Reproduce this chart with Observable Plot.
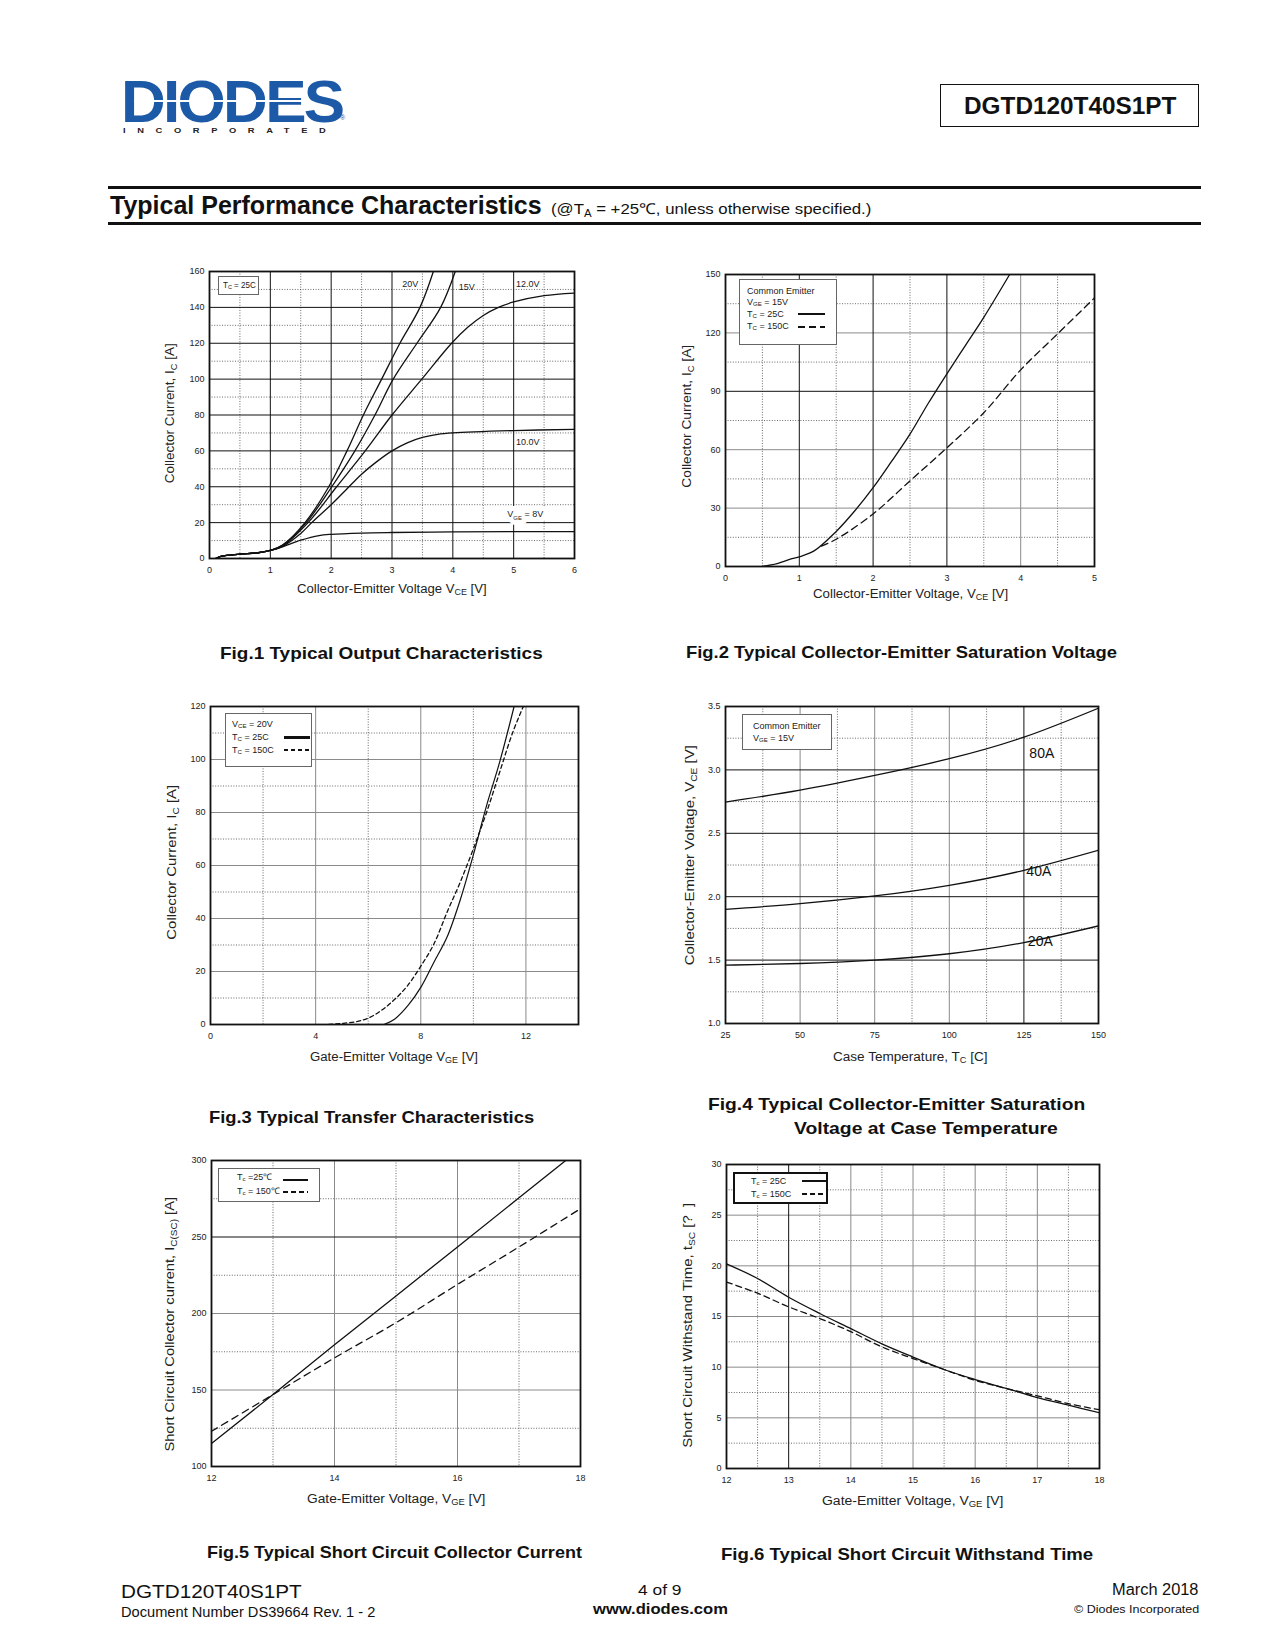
<!DOCTYPE html>
<html><head><meta charset="utf-8">
<script src="https://cdn.jsdelivr.net/npm/d3@7"></script>
<script src="https://cdn.jsdelivr.net/npm/@observablehq/plot@0.6"></script>
<style>
body{margin:0;background:#fff;}
#page{position:relative;width:1275px;height:1650px;overflow:hidden;font-family:"Liberation Sans",Arial,Helvetica,sans-serif;color:#111;background:#fff}
.t{position:absolute;left:0;top:0;white-space:nowrap;line-height:1;display:inline-block}
.s{font-size:0.68em;position:relative;top:0.32em}
.box{position:absolute;background:#fff;border:1px solid #666;box-sizing:border-box}
.ln{position:absolute;height:0}
svg{position:absolute}
</style></head>
<body><div id="page"></div>
<script>
// ---------------- DATA ----------------
// Fig.1 Typical Output Characteristics (Tc = 25C)
const f1_x8  = [0.1,0.2,0.5,0.8,1.0,1.2,1.5,1.8,2.0,2.5,3.0,4.0,5.0,6.0];
const f1_y8  = [0,1.3,2.4,3.2,4.5,6.5,10.2,12.8,13.5,14.2,14.5,14.8,15,15];
const f1_x10 = [0.1,0.2,0.5,0.8,1.0,1.2,1.5,1.68,2.0,2.25,2.5,2.75,3.0,3.25,3.5,3.75,4.0,5.0,6.0];
const f1_y10 = [0,1.3,2.4,3.2,4.5,6.8,14,20,30,38.5,47,54,60,64.5,67.5,69.2,70,71.3,72];
const f1_x12 = [0.1,0.2,0.5,0.8,1.0,1.2,1.62,2.09,2.56,3.0,3.49,3.98,4.25,4.5,4.75,5.0,5.5,6.0];
const f1_y12 = [0,1.3,2.4,3.2,4.5,7,20,40,60,80,100,120,129,135.5,140,143,146.5,148];
const f1_x15 = [0.1,0.2,0.5,0.8,1.0,1.2,1.59,2.01,2.39,2.72,3.02,3.41,3.8,4.04];
const f1_y15 = [0,1.3,2.4,3.2,4.5,7.3,20,40,60,80,100,120,140,160];
const f1_x20 = [0.1,0.2,0.5,0.8,1.0,1.2,1.57,1.96,2.26,2.53,2.83,3.13,3.46,3.68];
const f1_y20 = [0,1.3,2.4,3.2,4.5,7.5,20,40,60,80,100,120,140,160];
const f1_labelText = ["20V","15V","12.0V","10.0V","V_{GE} = 8V"];
const f1_labelX = [3.30,4.23,5.23,5.23,5.19];
const f1_labelY = [153,151.5,153,65,24.5];
const f1_xTicks = [0,1,2,3,4,5,6];
const f1_yTicks = [0,20,40,60,80,100,120,140,160];

// Fig.2 Typical Collector-Emitter Saturation Voltage (VGE = 15V)
const f2_x25  = [0.5,0.7,0.9,1.0,1.2,1.5,1.75,2.0,2.25,2.5,2.75,3.0,3.25,3.5,3.85];
const f2_y25  = [0,1.5,4,5,8,18,28.5,40.5,54,68,84,99,113.5,128,150];
const f2_x150 = [1.3,1.5,2.0,2.5,3.0,3.5,4.0,4.5,5.0];
const f2_y150 = [10.5,14,27,44,61,79,101,119.5,138];
const f2_xTicks = [0,1,2,3,4,5];
const f2_yTicks = [0,30,60,90,120,150];

// Fig.3 Typical Transfer Characteristics (VCE = 20V)
const f3_x25  = [6.6,7,7.5,8,8.5,9,9.5,10,10.5,11,11.55];
const f3_y25  = [0,2,7,14,23.5,33,47,64,82.5,99,120];
const f3_x150 = [4.5,5.5,6,6.5,7,7.5,8,8.5,9,9.5,10,10.5,11,11.5,11.9];
const f3_y150 = [0,1,2.4,5.3,9.4,14.7,22,30.4,42.4,53.7,66.3,80,95.2,110.3,120];
const f3_xTicks = [0,4,8,12];
const f3_yTicks = [0,20,40,60,80,100,120];

// Fig.4 VCE(sat) vs case temperature (VGE = 15V)
const f4_temp = [25,50,75,100,125,150];
const f4_80A  = [2.746,2.84,2.956,3.088,3.258,3.487];
const f4_40A  = [1.90,1.945,2.006,2.09,2.208,2.366];
const f4_20A  = [1.46,1.473,1.50,1.55,1.638,1.77];
const f4_labelText = ["80A","40A","20A"];
const f4_labelX = [131,130,130.5];
const f4_labelY = [3.13,2.20,1.643];
const f4_xTicks = [25,50,75,100,125,150];
const f4_yTicks = [1.0,1.5,2.0,2.5,3.0,3.5];

// Fig.5 Short circuit collector current
const f5_x25  = [12,13,14,15,16,17,17.76];
const f5_y25  = [115,147,179.5,211.5,243.5,275.6,300];
const f5_x150 = [12,13,14,15,16,17,18];
const f5_y150 = [123,147,171,194,219,243.5,268.5];
const f5_xTicks = [12,14,16,18];
const f5_yTicks = [100,150,200,250,300];

// Fig.6 Short circuit withstand time
const f6_x    = [12,12.5,13,13.5,14,14.5,15,15.5,16,16.5,17,17.5,18];
const f6_y25  = [20.2,18.75,16.9,15.3,13.8,12.3,11.0,9.77,8.78,7.9,7.0,6.25,5.5];
const f6_y150 = [18.4,17.3,15.95,14.8,13.5,12.0,10.85,9.77,8.7,7.9,7.17,6.4,5.8];
const f6_xTicks = [12,13,14,15,16,17,18];
const f6_yTicks = [0,5,10,15,20,25,30];

// ---------------- HELPERS ----------------
const page = document.getElementById("page");
function addText(html, o){
  const d = document.createElement("div");
  d.className = "t";
  d.innerHTML = html;
  d.style.fontSize = (o.size||12)+"px";
  if (o.lh) d.style.lineHeight = o.lh;
  if (o.weight) d.style.fontWeight = o.weight;
  if (o.family) d.style.fontFamily = o.family;
  if (o.color) d.style.color = o.color;
  if (o.spacing) d.style.letterSpacing = o.spacing;
  page.appendChild(d);
  const w0 = d.offsetWidth, h0 = d.offsetHeight;
  const s = o.w ? o.w / w0 : 1;
  if (o.rotate){
    d.style.left = (o.x - w0/2) + "px";
    d.style.top = (o.y - h0/2) + "px";
    d.style.transformOrigin = "50% 50%";
    d.style.transform = `rotate(-90deg) scaleX(${s})`;
  } else {
    const wv = w0*s;
    const left = o.anchor==="middle" ? o.x - wv/2 : o.anchor==="end" ? o.x - wv : o.x;
    d.style.left = left + "px";
    d.style.top = (o.y - h0/2) + "px";
    d.style.transformOrigin = "0 50%";
    d.style.transform = `scaleX(${s})` + (o.sy ? ` scaleY(${o.sy})` : "");
  }
  return d;
}
function addBox(x0,y0,x1,y1,border){
  const b = document.createElement("div");
  b.className="box";
  Object.assign(b.style,{left:x0+"px",top:y0+"px",width:(x1-x0)+"px",height:(y1-y0)+"px"});
  if (border) b.style.border = border;
  page.appendChild(b);
}
function addSample(x0,x1,y,w,dash){
  const l = document.createElement("div");
  l.className="ln";
  Object.assign(l.style,{left:x0+"px",top:(y-w/2)+"px",width:(x1-x0)+"px",height:w+"px"});
  l.style.background = dash ? `repeating-linear-gradient(90deg,#111 0 ${dash[0]}px,transparent ${dash[0]}px ${dash[0]+dash[1]}px)` : "#111";
  page.appendChild(l);
}
function pts(xs, ys){ return xs.map((x,i)=>({x, y: ys[i]})); }
function range(a,b,st){ const r=[]; for(let v=a; v<=b+1e-9; v+=st) r.push(+v.toFixed(4)); return r; }

function subify(svg){
  svg.querySelectorAll("text").forEach(t=>{
    const s = t.textContent;
    if (!s.includes("_{")) return;
    const parts = s.split(/(_\{[^}]*\})/).filter(p=>p);
    while (t.firstChild) t.removeChild(t.firstChild);
    let prevSub = false;
    for (const p of parts){
      const ts = document.createElementNS("http://www.w3.org/2000/svg","tspan");
      if (p.startsWith("_{")){
        ts.textContent = p.slice(2,-1);
        ts.setAttribute("font-size","6");
        ts.setAttribute("dy","2.5");
        prevSub = true;
      } else {
        ts.textContent = p;
        if (prevSub) ts.setAttribute("dy","-2.5");
        prevSub = false;
      }
      t.appendChild(ts);
    }
  });
}

const mL=40, mR=14, mT=12, mB=24;
function chart(c){
  const [fx0,fy0,fx1,fy1] = c.frame;
  const marks = [
    Plot.ruleX(c.xMinor,{stroke:"#444",strokeWidth:0.8,strokeDasharray:"1,1.6"}),
    Plot.ruleY(c.yMinor,{stroke:"#444",strokeWidth:0.8,strokeDasharray:"1,1.6"}),
    Plot.ruleX(c.xMajor.filter(v=>!(c.darkX||[]).includes(v)),{stroke:c.majorColor||"#8a8a8a",strokeWidth:1}),
    Plot.ruleY(c.yMajor.filter(v=>!(c.darkY||[]).includes(v)),{stroke:c.majorColor||"#8a8a8a",strokeWidth:1}),
    Plot.ruleX((c.darkX||[]),{stroke:"#111",strokeWidth:1}),
    Plot.ruleY((c.darkY||[]),{stroke:"#111",strokeWidth:1}),
  ];
  if (c.under) marks.push(...c.under);
  for (const s of c.series){
    marks.push(Plot.line(s.data,{x:"x",y:"y",curve:s.curve||"catmull-rom",stroke:"#111",strokeWidth:s.width||1.3,strokeDasharray:s.dash,clip:true}));
  }
  if (c.labels) marks.push(...c.labels);
  marks.push(Plot.frame({stroke:"#111",strokeWidth:1.8}));
  const p = Plot.plot({
    width: fx1-fx0+mL+mR, height: fy1-fy0+mT+mB,
    marginLeft:mL, marginRight:mR, marginTop:mT, marginBottom:mB,
    style:{fontFamily:"'Liberation Sans',Arial,sans-serif",fontSize:"9px",color:"#222",background:"transparent",overflow:"visible"},
    x:{domain:c.xDomain,ticks:c.xTicks,tickSize:0,tickPadding:8,label:null,tickFormat:c.xFormat||(d=>String(d))},
    y:{domain:c.yDomain,ticks:c.yTicks,tickSize:0,tickPadding:5,label:null,tickFormat:c.yFormat||(d=>String(d))},
    marks
  });
  p.style.left = (fx0-mL)+"px";
  p.style.top = (fy0-mT)+"px";
  subify(p);
  page.appendChild(p);
}

// ---------------- HEADER ----------------
addText("DIODES",{x:121,y:101,size:46,lh:0.7,weight:"900",color:"#1c59a6",w:221,sy:1.3,family:"'Liberation Sans',Arial,sans-serif",spacing:"-2px"});
(function(){ const l=document.createElement("div"); Object.assign(l.style,{position:"absolute",left:"134px",top:"100px",width:"176px",height:"2px",background:"#fff"}); page.appendChild(l);})();
addText("INCORPORATED",{x:123,y:131,size:8,lh:0.8,weight:"bold",color:"#222",w:214,spacing:"10px"});
addText("®",{x:340,y:118,size:7,lh:0.8,color:"#1c59a6"});
addBox(940,84,1199,127,"1.5px solid #111");
addText("DGTD120T40S1PT",{x:1069.5,y:106,size:24,weight:"bold",anchor:"middle",w:212,family:"'Liberation Sans Narrow','Liberation Sans',Arial,sans-serif"});
(function(){
  for (const y of [186,222]){ const l=document.createElement("div"); Object.assign(l.style,{position:"absolute",left:"108px",top:y+"px",width:"1093px",height:"3px",background:"#111"}); page.appendChild(l);}
})();
addText("Typical Performance Characteristics",{x:110,y:205,size:25,weight:"bold",w:432,family:"'Liberation Sans Narrow','Liberation Sans',Arial,sans-serif"});
addText("(@T<span class='s'>A</span> = +25℃, unless otherwise specified.)",{x:551,y:208,size:15,w:320,family:"'Liberation Sans Narrow','Liberation Sans',Arial,sans-serif"});

// ---------------- FIG 1 ----------------
const f1_labels = f1_labelText.map((t,i)=>({t,x:f1_labelX[i],y:f1_labelY[i]}));
chart({
  frame:[209,271,574,558], xDomain:[0,6], yDomain:[0,160], xTicks:f1_xTicks, yTicks:f1_yTicks,
  xMajor:[1,2,3,4,5], xMinor:range(0.5,5.5,1), yMajor:range(20,140,20), yMinor:range(10,150,20),
  darkX:[1,2,3,4,5], darkY:range(20,140,20),
  under:[
    Plot.text(f1_labels.filter(d=>d.t.startsWith("V")),{x:"x",y:"y",text:"t",fontSize:9,fill:"white",stroke:"white",strokeWidth:10})
  ],
  series:[{data:pts(f1_x8,f1_y8)},{data:pts(f1_x10,f1_y10)},{data:pts(f1_x12,f1_y12)},{data:pts(f1_x15,f1_y15)},{data:pts(f1_x20,f1_y20)}],
  labels:[
    Plot.text(f1_labels,{x:"x",y:"y",text:"t",fontSize:9,fill:"#222"})
  ]
});
addBox(218,276,259,295);
addText("T<span class='s'>C</span> = 25C",{x:223,y:285,size:9,color:"#222",w:33});
addText("Collector Current, I<span class='s'>C</span> [A]",{x:170,y:413,size:12.5,rotate:true,w:140,color:"#222"});
addText("Collector-Emitter Voltage V<span class='s'>CE</span> [V]",{x:392,y:589,size:12.5,anchor:"middle",w:190,color:"#222"});

// ---------------- FIG 2 ----------------
chart({
  frame:[725,274,1094,566], xDomain:[0,5], yDomain:[0,150], xTicks:f2_xTicks, yTicks:f2_yTicks,
  xMajor:[1,2,3,4], xMinor:range(0.5,4.5,1), yMajor:[30,60,90,120], yMinor:range(15,135,30),
  darkX:[1,2,3], darkY:[90],
  series:[{data:pts(f2_x25,f2_y25)},{data:pts(f2_x150,f2_y150),dash:"7,4.5"}]
});
addBox(739,279,837,345);
addText("Common Emitter",{x:747,y:291,size:9,color:"#222"});
addText("V<span class='s'>GE</span> = 15V",{x:747,y:302,size:9,color:"#222"});
addText("T<span class='s'>C</span> = 25C",{x:747,y:314,size:9,color:"#222"});
addText("T<span class='s'>C</span> = 150C",{x:747,y:326,size:9,color:"#222"});
addSample(798,825,314,2);
addSample(798,825,327,1.6,[7,4]);
addText("Collector Current, I<span class='s'>C</span> [A]",{x:687,y:416,size:12.5,rotate:true,w:143,color:"#222"});
addText("Collector-Emitter Voltage, V<span class='s'>CE</span> [V]",{x:910,y:594,size:12.5,anchor:"middle",w:195,color:"#222"});

// ---------------- FIG 3 ----------------
chart({
  frame:[210,706,578,1024], xDomain:[0,14], yDomain:[0,120], xTicks:f3_xTicks, yTicks:f3_yTicks,
  xMajor:[4,8,12], xMinor:[2,6,10], yMajor:range(20,100,20), yMinor:range(10,110,20),
  series:[{data:pts(f3_x25,f3_y25),width:1.2},{data:pts(f3_x150,f3_y150),dash:"4,3",width:1.3}]
});
addBox(225,713,312,767);
addText("V<span class='s'>CE</span> = 20V",{x:232,y:724,size:9,color:"#222"});
addText("T<span class='s'>C</span> = 25C",{x:232,y:737,size:9,color:"#222"});
addText("T<span class='s'>C</span> = 150C",{x:232,y:750,size:9,color:"#222"});
addSample(284,310,737,3);
addSample(284,310,750,1.6,[4,3]);
addText("Collector Current, I<span class='s'>C</span> [A]",{x:172,y:862,size:12.5,rotate:true,w:155,color:"#222"});
addText("Gate-Emitter Voltage V<span class='s'>GE</span> [V]",{x:394,y:1057,size:12.5,anchor:"middle",w:168,color:"#222"});

// ---------------- FIG 4 ----------------
chart({
  frame:[725,706,1098,1023], xDomain:[25,150], yDomain:[1,3.5], xTicks:f4_xTicks, yTicks:f4_yTicks, yFormat:d3.format(".1f"),
  xMajor:[50,75,100,125], xMinor:range(37.5,137.5,25), yMajor:[1.5,2,2.5,3], yMinor:range(1.25,3.25,0.5),
  darkX:[125], darkY:[1.5,2,2.5,3],
  series:[{data:pts(f4_temp,f4_80A),curve:"natural"},{data:pts(f4_temp,f4_40A),curve:"natural"},{data:pts(f4_temp,f4_20A),curve:"natural"}],
  labels:[
    Plot.text(f4_labelText.map((t,i)=>({t,x:f4_labelX[i],y:f4_labelY[i]})),{x:"x",y:"y",text:"t",fontSize:14,fill:"#111"})
  ]
});
addBox(742,714,832,750);
addText("Common Emitter",{x:753,y:726,size:9,color:"#222"});
addText("V<span class='s'>GE</span> = 15V",{x:753,y:738,size:9,color:"#222"});
addText("Collector-Emitter Voltage, V<span class='s'>CE</span> [V]",{x:690,y:855,size:12.5,rotate:true,w:220,color:"#222"});
addText("Case Temperature, T<span class='s'>C</span> [C]",{x:910,y:1057,size:12.5,anchor:"middle",w:155,color:"#222"});

// ---------------- FIG 5 ----------------
chart({
  frame:[211,1160,580,1466], xDomain:[12,18], yDomain:[100,300], xTicks:f5_xTicks, yTicks:f5_yTicks,
  xMajor:[14,16], xMinor:[13,15,17], yMajor:[150,200,250], yMinor:[125,175,225,275],
  darkY:[250],
  series:[{data:pts(f5_x25,f5_y25),curve:"linear"},{data:pts(f5_x150,f5_y150),dash:"7,5"}]
});
addBox(218,1168,320,1202);
addText("T<span class='s'>c</span> =25℃",{x:237,y:1177,size:9,color:"#222"});
addText("T<span class='s'>c</span> = 150℃",{x:237,y:1191,size:9,color:"#222"});
addSample(283,308,1180,1.8);
addSample(283,308,1192,1.6,[5,3]);
addText("Short Circuit Collector current, I<span class='s'>C(SC)</span> [A]",{x:170,y:1324,size:12.5,rotate:true,w:255,color:"#222"});
addText("Gate-Emitter Voltage, V<span class='s'>GE</span> [V]",{x:396,y:1499,size:12.5,anchor:"middle",w:178,color:"#222"});

// ---------------- FIG 6 ----------------
chart({
  frame:[726,1164,1099,1468], xDomain:[12,18], yDomain:[0,30], xTicks:f6_xTicks, yTicks:f6_yTicks,
  xMajor:[13,14,15,16,17], xMinor:range(12.5,17.5,1), yMajor:[5,10,15,20,25], yMinor:range(2.5,27.5,5),
  darkX:[13],
  series:[{data:pts(f6_x,f6_y25)},{data:pts(f6_x,f6_y150),dash:"6,4"}]
});
addBox(733,1172,828,1204,"2px solid #111");
addText("T<span class='s'>c</span> = 25C",{x:751,y:1181,size:9,color:"#222"});
addText("T<span class='s'>c</span> = 150C",{x:751,y:1194,size:9,color:"#222"});
addSample(802,826,1181,2);
addSample(802,826,1194,2,[5,3]);
addText("Short Circuit Withstand Time, t<span class='s'>SC</span> [?&nbsp;&nbsp;]",{x:688,y:1325,size:12.5,rotate:true,w:245,color:"#222"});
addText("Gate-Emitter Voltage, V<span class='s'>GE</span> [V]",{x:912,y:1501,size:12.5,anchor:"middle",w:181,color:"#222"});

// ---------------- CAPTIONS ----------------
const capFont = "'Liberation Sans Narrow','Liberation Sans',Arial,sans-serif";
addText("Fig.1 Typical Output Characteristics",{x:220,y:653,size:17,weight:"bold",w:323,family:capFont});
addText("Fig.2 Typical Collector-Emitter Saturation Voltage",{x:686,y:652,size:17,weight:"bold",w:431,family:capFont});
addText("Fig.3 Typical Transfer Characteristics",{x:209,y:1117,size:17,weight:"bold",w:325,family:capFont});
addText("Fig.4 Typical Collector-Emitter Saturation",{x:708,y:1104,size:17,weight:"bold",w:377,family:capFont});
addText("Voltage at Case Temperature",{x:794,y:1128,size:17,weight:"bold",w:264,family:capFont});
addText("Fig.5 Typical Short Circuit Collector Current",{x:207,y:1552,size:17,weight:"bold",w:375,family:capFont});
addText("Fig.6 Typical Short Circuit Withstand Time",{x:721,y:1554,size:17,weight:"bold",w:372,family:capFont});

// ---------------- FOOTER ----------------
addText("DGTD120T40S1PT",{x:121,y:1591,size:19,w:181,family:capFont});
addText("Document Number DS39664 Rev. 1 - 2",{x:121,y:1612,size:14,w:254,family:capFont});
addText("4 of 9",{x:660,y:1589,size:15,anchor:"middle",w:44,family:capFont});
addText("www.diodes.com",{x:660,y:1608,size:15,weight:"bold",anchor:"middle",w:135,family:capFont});
addText("March 2018",{x:1199,y:1590,size:16,anchor:"end",w:87,family:capFont});
addText("© Diodes Incorporated",{x:1199,y:1610,size:11.5,anchor:"end",w:125,family:capFont});
</script>
</body></html>
